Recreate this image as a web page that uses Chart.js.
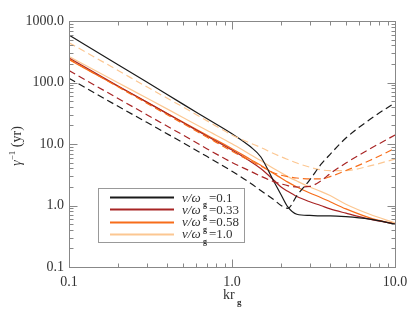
<!DOCTYPE html>
<html>
<head>
<meta charset="utf-8">
<script src="https://cdn.jsdelivr.net/npm/chart.js@4.4.1/dist/chart.umd.min.js"></script>
<style>
  html, body { margin: 0; background: #fff; }
</style>
</head>
<body>
<canvas id="chart" width="415" height="312"></canvas>
<script>
// kr_g sample points shared by all curves
const kr = [0.1, 0.2, 0.3, 0.5, 0.7, 1.0, 1.3, 1.5, 1.8, 2.0, 2.2, 2.5, 3.0, 3.5, 4.0, 5.0, 7.0, 10.0];

// solid curves
const solid01  = [590, 195, 102, 44.5, 26, 14.7, 9.0, 6.2, 2.5, 1.5, 0.95, 0.72, 0.69, 0.68, 0.68, 0.66, 0.6, 0.5];
const solid033 = [250, 88, 48, 22.4, 13.5, 8.0, 5.2, 4.0, 2.6, 2.0, 1.7, 1.4, 1.15, 1.0, 0.88, 0.75, 0.6, 0.5];
const solid058 = [235, 86, 48, 22.8, 14, 8.4, 5.6, 4.5, 3.3, 2.8, 2.4, 2.0, 1.6, 1.35, 1.15, 0.88, 0.63, 0.5];
const solid10  = [265, 99, 56, 27, 16.7, 10.1, 6.7, 5.4, 4.0, 3.4, 2.95, 2.5, 2.0, 1.7, 1.45, 1.05, 0.72, 0.52];

// dashed curves
const dash01  = [117, 41, 22.5, 10.5, 6.3, 3.6, 2.3, 1.75, 1.25, 1.0, 0.9, 1.45, 2.6, 4.6, 6.8, 12.5, 25, 47];
const dash033 = [156, 55, 30, 14, 8.4, 5.0, 3.6, 3.0, 2.45, 2.25, 2.1, 2.0, 2.05, 2.5, 3.3, 4.9, 8.3, 14];
const dash058 = [240, 85, 46, 21.5, 13, 7.6, 5.3, 4.4, 3.4, 3.1, 2.95, 2.8, 2.7, 2.7, 2.95, 3.7, 5.4, 8.5];
const dash10  = [444, 157, 85, 40, 24, 14, 10.3, 8.8, 7.0, 6.2, 5.6, 4.9, 4.2, 3.8, 3.7, 3.7, 4.4, 5.7];

const nuLabels = ['0.1', '0.33', '0.58', '1.0'];
const colors = ['#1a1a1a', '#a82424', '#f76d1a', '#fcc792'];
const xTicks = [0.1, 1, 10];
const yTicks = [0.1, 1, 10, 100, 1000];

const SERIF = "'Liberation Serif', 'Times New Roman', 'DejaVu Serif', serif";

const pts = arr => kr.map((k, i) => ({ x: k, y: arr[i] }));
const solids = [solid01, solid033, solid058, solid10];
const dashes = [dash01, dash033, dash058, dash10];

const datasets = [];
dashes.forEach((d, i) => datasets.push({
    data: pts(d), borderColor: colors[i], borderWidth: 1.2, borderDash: [7, 4],
    pointRadius: 0, cubicInterpolationMode: 'monotone', fill: false
}));
solids.forEach((d, i) => datasets.push({
    data: pts(d), borderColor: colors[i], borderWidth: 1.2,
    pointRadius: 0, cubicInterpolationMode: 'monotone', fill: false
}));

// frame, inward ticks, axis titles and legend
const decor = {
    id: 'decor',
    afterDraw(chart) {
        const { ctx, chartArea: a, scales: { x, y } } = chart;
        ctx.save();
        ctx.strokeStyle = '#888';
        ctx.lineWidth = 1;
        const L = Math.round(a.left) + 0.5, R = Math.round(a.right) + 0.5;
        const T = Math.round(a.top) + 0.5, B = Math.round(a.bottom) + 0.5;
        ctx.strokeRect(L, T, R - L, B - T);

        ctx.beginPath();
        for (let e = -1; e <= 1; e++) {
            for (let m = 1; m <= 9; m++) {
                const v = m * Math.pow(10, e);
                if (v > 10) continue;
                const px = Math.round(x.getPixelForValue(v)) + 0.5;
                const len = m === 1 ? 8 : 4;
                ctx.moveTo(px, B); ctx.lineTo(px, B - len);
                ctx.moveTo(px, T); ctx.lineTo(px, T + len);
            }
        }
        for (let e = -1; e <= 2; e++) {
            for (let m = 1; m <= 9; m++) {
                const v = m * Math.pow(10, e);
                const py = Math.round(y.getPixelForValue(v)) + 0.5;
                const len = m === 1 ? 8 : 4;
                ctx.moveTo(L, py); ctx.lineTo(L + len, py);
                ctx.moveTo(R, py); ctx.lineTo(R - len, py);
            }
        }
        ctx.stroke();

        ctx.fillStyle = '#333';
        ctx.textBaseline = 'alphabetic';
        // x title
        ctx.font = '14px ' + SERIF;
        ctx.textAlign = 'left';
        ctx.fillText('kr', 223, 299);
        ctx.font = 'bold 9px ' + SERIF;
        ctx.fillText('g', 237, 305);

        // y title (rotated)
        ctx.save();
        ctx.translate(21, 146);
        ctx.rotate(-Math.PI / 2);
        const g = 'γ';
        ctx.font = 'italic 14px ' + SERIF;
        const wg = ctx.measureText(g).width;
        ctx.font = '9px ' + SERIF;
        const ws = ctx.measureText('−1').width;
        ctx.font = '14px ' + SERIF;
        const wt = ctx.measureText(' (yr)').width;
        const sx = -(wg + ws + wt) / 2;
        ctx.font = 'italic 14px ' + SERIF;
        ctx.fillText(g, sx, 0);
        ctx.font = '9px ' + SERIF;
        ctx.fillText('−1', sx + wg, -6);
        ctx.font = '14px ' + SERIF;
        ctx.fillText(' (yr)', sx + wg + ws, 0);
        ctx.restore();

        // legend
        ctx.strokeStyle = '#999';
        ctx.lineWidth = 1;
        ctx.strokeRect(98.5, 188.5, 146, 54);
        nuLabels.forEach((lab, i) => {
            const cy = 197 + i * 12.3;
            ctx.strokeStyle = colors[i];
            ctx.lineWidth = 2;
            ctx.beginPath();
            ctx.moveTo(110, Math.round(cy) + 0.5);
            ctx.lineTo(174, Math.round(cy) + 0.5);
            ctx.stroke();
            ctx.fillStyle = '#333';
            ctx.font = 'italic 13px ' + SERIF;
            ctx.fillText('ν/ω', 182, cy + 4.5);
            ctx.font = 'bold 8px ' + SERIF;
            ctx.fillText('g', 203, cy + 10);
            ctx.font = '13px ' + SERIF;
            ctx.fillText('=' + lab, 209, cy + 4.5);
        });
        ctx.restore();
    }
};

new Chart(document.getElementById('chart'), {
    type: 'line',
    data: { datasets },
    options: {
        responsive: false,
        animation: false,
        devicePixelRatio: 1,
        layout: { padding: { left: 0, right: 20, top: 21, bottom: 0 } },
        plugins: { legend: { display: false }, tooltip: { enabled: false } },
        scales: {
            x: {
                type: 'logarithmic', min: 0.1, max: 10,
                afterFit: s => { s.height = 45; },
                afterBuildTicks: s => { s.ticks = xTicks.map(v => ({ value: v })); },
                grid: { display: false, drawTicks: false },
                border: { display: false },
                ticks: {
                    color: '#333', padding: 7, maxRotation: 0, autoSkip: false,
                    font: { family: SERIF, size: 14 },
                    callback: v => v.toFixed(1)
                }
            },
            y: {
                type: 'logarithmic', min: 0.1, max: 1000,
                afterFit: s => { s.width = 69; },
                afterBuildTicks: s => { s.ticks = yTicks.map(v => ({ value: v })); },
                grid: { display: false, drawTicks: false },
                border: { display: false },
                ticks: {
                    color: '#333', padding: 5, autoSkip: false,
                    font: { family: SERIF, size: 14 },
                    callback: v => v.toFixed(1)
                }
            }
        }
    },
    plugins: [decor]
});
</script>
</body>
</html>
